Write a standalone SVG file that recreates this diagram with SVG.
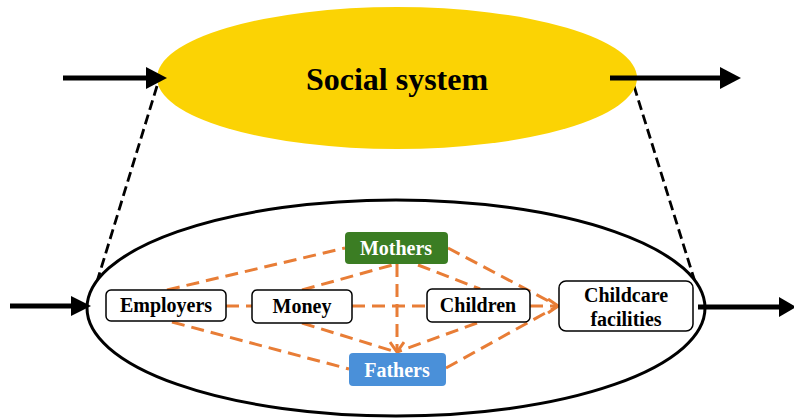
<svg xmlns="http://www.w3.org/2000/svg" width="794" height="420" viewBox="0 0 794 420">
<style>
.lbl{font-family:"Liberation Serif","Times New Roman",serif;font-weight:bold;font-size:20px;text-anchor:middle}
.box{fill:#fff;stroke:#000;stroke-width:1.5}
.od{stroke:#E87D36;stroke-width:3;stroke-dasharray:13,7;fill:none}
.bd{stroke:#000;stroke-width:2.8;stroke-dasharray:10,5;fill:none}
.thick{stroke:#000;stroke-width:5}
</style>
<defs>
<marker id="chev" viewBox="0 0 12 16" refX="11" refY="8" markerWidth="12" markerHeight="16" markerUnits="userSpaceOnUse" orient="auto">
<path d="M1,1 L11,8 L1,15" fill="none" stroke="#E87D36" stroke-width="3" stroke-dasharray="none"/>
</marker>
</defs>
<rect width="794" height="420" fill="#fff"/>

<g id="system-links">
<line class="bd" x1="157" y1="86" x2="92" y2="298"/>
<line class="bd" x1="634" y1="86" x2="700" y2="298"/>
</g>

<g id="social-system">
<ellipse cx="397" cy="78" rx="240" ry="71" fill="#FBD304"/>
<text x="397" y="90" class="lbl" style="font-size:32px">Social system</text>
</g>

<g id="subsystem">
<ellipse cx="396" cy="308" rx="309" ry="108" fill="#fff" stroke="#000" stroke-width="3"/>
</g>

<g id="flows">
<line class="thick" x1="63" y1="78" x2="150" y2="78"/>
<polygon points="146,67 167,78 146,89"/>
<line class="thick" x1="610" y1="78" x2="723" y2="78"/>
<polygon points="720,67 741,78 720,89"/>
<line class="thick" x1="10" y1="306" x2="75" y2="306"/>
<polygon points="71,296 91,306 71,316"/>
<line class="thick" x1="698" y1="307" x2="782" y2="307"/>
<polygon points="779,297 796,307 779,317"/>
</g>

<g id="connectors">
<line class="od" x1="167" y1="290" x2="345" y2="248"/>
<line class="od" x1="226" y1="306" x2="252" y2="306"/>
<line class="od" x1="172" y1="322" x2="349" y2="369"/>
<line class="od" x1="302" y1="290" x2="396" y2="264"/>
<line class="od" x1="352" y1="306" x2="427" y2="306"/>
<line class="od" x1="302" y1="323" x2="396" y2="352"/>
<line class="od" x1="397" y1="264" x2="397" y2="352" marker-end="url(#chev)"/>
<line class="od" x1="418" y1="265" x2="480" y2="289"/>
<line class="od" x1="448" y1="248" x2="558" y2="306"/>
<line class="od" x1="530" y1="306" x2="558" y2="306" marker-end="url(#chev)"/>
<line class="od" x1="477" y1="323" x2="397" y2="352"/>
<line class="od" x1="446" y1="368" x2="558" y2="306"/>
</g>

<g id="employers">
<rect class="box" x="106" y="290" width="120" height="31" rx="5"/>
<text class="lbl" x="166" y="312">Employers</text>
</g>
<g id="money">
<rect class="box" x="252" y="290" width="100" height="33" rx="5"/>
<text class="lbl" x="302" y="313">Money</text>
</g>
<g id="children">
<rect class="box" x="427" y="289" width="103" height="33" rx="5"/>
<text class="lbl" x="478" y="312">Children</text>
</g>
<g id="childcare">
<rect class="box" x="559" y="281" width="134" height="50" rx="7"/>
<text class="lbl" x="626" y="302">Childcare</text>
<text class="lbl" x="626" y="326">facilities</text>
</g>
<g id="mothers">
<rect x="345" y="232" width="103" height="32" rx="4" fill="#3B7D23"/>
<text class="lbl" x="396" y="255" fill="#fff">Mothers</text>
</g>
<g id="fathers">
<rect x="349" y="353" width="97" height="33" rx="4" fill="#4A90D9"/>
<text class="lbl" x="397" y="377" fill="#fff">Fathers</text>
</g>
</svg>
